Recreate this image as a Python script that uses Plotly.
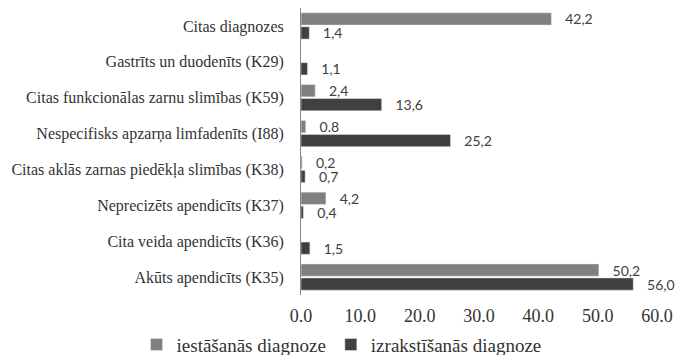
import plotly.graph_objects as go

categories = [
    "Citas diagnozes",
    "Gastrīts un duodenīts (K29)",
    "Citas funkcionālas zarnu slimības (K59)",
    "Nespecifisks apzarņa limfadenīts (I88)",
    "Citas aklās zarnas piedēkļa slimības (K38)",
    "Neprecizēts apendicīts (K37)",
    "Cita veida apendicīts (K36)",
    "Akūts apendicīts (K35)",
]
admission = [42.2, None, 2.4, 0.8, 0.2, 4.2, None, 50.2]
admission_labels = ["42,2", "", "2,4", "0.8", "0,2", "4,2", "", "50,2"]
discharge = [1.4, 1.1, 13.6, 25.2, 0.7, 0.4, 1.5, 56.0]
discharge_labels = ["1,4", "1,1", "13,6", "25,2", "0,7", "0,4", "1,5", "56,0"]
x_ticks = [0, 10, 20, 30, 40, 50, 60]
x_tick_labels = ["0.0", "10.0", "20.0", "30.0", "40.0", "50.0", "60.0"]

label_font = dict(family="Lato, sans-serif", size=14, color="#404040")
serif = "Liberation Serif"

fig = go.Figure()
fig.add_trace(go.Bar(
    y=categories, x=admission, orientation="h",
    name="iestāšanās diagnoze",
    marker=dict(color="#808080"),
    text=["   " + t if t else "" for t in admission_labels],
    textposition="outside", textfont=label_font,
    constraintext="none", cliponaxis=False,
))
fig.add_trace(go.Bar(
    y=categories, x=discharge, orientation="h",
    name="izrakstīšanās diagnoze",
    marker=dict(color="#404040"),
    text=["   " + t for t in discharge_labels],
    textposition="outside", textfont=label_font,
    constraintext="none", cliponaxis=False,
))

fig.update_layout(
    width=679, height=355,
    margin=dict(l=301, r=22, t=8, b=60, autoexpand=False),
    paper_bgcolor="white", plot_bgcolor="white",
    barmode="group", bargap=0.22, bargroupgap=0.12,
    font=dict(family=serif, color="#333333"),
    xaxis=dict(
        range=[0, 60], tickvals=x_ticks, ticktext=x_tick_labels,
        showgrid=False, zeroline=False, showline=False,
        tickfont=dict(family=serif, size=18, color="#333333"),
        ticks="", ticklabelstandoff=8,
    ),
    yaxis=dict(
        autorange="reversed", showgrid=False, zeroline=False,
        showline=True, linecolor="#888888", linewidth=1,
        tickfont=dict(family=serif, size=16, color="#333333"),
        ticks="", ticklabelstandoff=13,
    ),
    legend=dict(
        orientation="h", x=-0.462, xanchor="left", y=-0.173, yanchor="middle",
        font=dict(family=serif, size=19, color="#333333"),
        traceorder="normal", itemwidth=30,
    ),
)

fig.write_html("out.html")
